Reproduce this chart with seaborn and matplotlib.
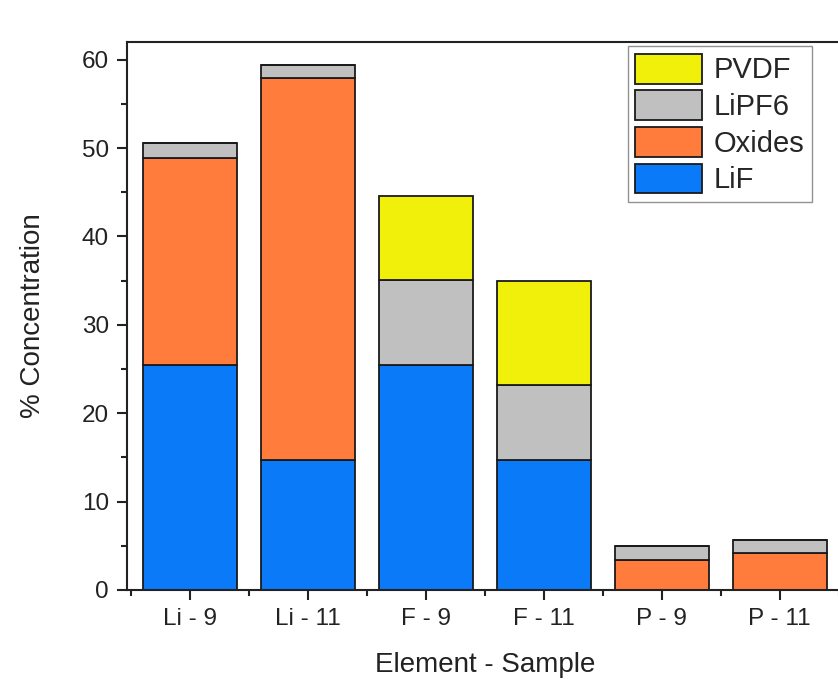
import matplotlib
matplotlib.use("Agg")
import matplotlib.pyplot as plt
from matplotlib.ticker import MultipleLocator, FixedLocator
import numpy as np
import pandas as pd
import seaborn as sns

samples = ["Li - 9", "Li - 11", "F - 9", "F - 11", "P - 9", "P - 11"]
lif = [25.5, 14.7, 25.5, 14.7, 0.0, 0.0]
oxides = [23.4, 43.2, 0.0, 0.0, 3.4, 4.2]
lipf6 = [1.7, 1.5, 9.6, 8.5, 1.6, 1.4]
pvdf = [0.0, 0.0, 9.5, 11.8, 0.0, 0.0]

components = ["LiF", "Oxides", "LiPF6", "PVDF"]
colors = ["#0A7AF8", "#FF7C3C", "#C0C0C0", "#F0F00A"]

df = pd.DataFrame({"Sample": samples, "LiF": lif, "Oxides": oxides,
                   "LiPF6": lipf6, "PVDF": pvdf})

sns.set_style("ticks")
plt.rcParams["font.family"] = ["Liberation Sans", "DejaVu Sans"]

fig = plt.figure(figsize=(8.38, 6.79), dpi=100)
ax = fig.add_axes([0.1516, 0.1311, 0.854, 0.807])

# stacked bars, one seaborn call per layer
bottom = np.zeros(len(samples))
for comp, col in zip(components, colors):
    sns.barplot(data=df, x="Sample", y=comp, order=samples, color=col,
                bottom=bottom.copy(), width=0.8, edgecolor="#1a1a1a",
                linewidth=1.3, saturation=1, label=comp, ax=ax)
    bottom += df[comp].to_numpy()

ax.set_xlim(-0.534, 5.534)
ax.set_ylim(0, 62)
ax.yaxis.set_major_locator(MultipleLocator(10))
ax.yaxis.set_minor_locator(MultipleLocator(5))
ax.xaxis.set_minor_locator(FixedLocator(np.arange(-0.5, 6.0, 1.0)))

for s in ax.spines.values():
    s.set_linewidth(1.5)
    s.set_color("#222222")
ax.tick_params(which="major", direction="out", length=7, width=1.5,
               labelsize=17.5, colors="#222222", pad=6)
ax.tick_params(which="minor", direction="out", length=4, width=1.5,
               colors="#222222")

ax.set_xlabel("Element - Sample", fontsize=20, labelpad=16, color="#222222")
ax.set_ylabel("% Concentration", fontsize=20, labelpad=26, color="#222222")

handles, labels = ax.get_legend_handles_labels()
leg = ax.legend(handles[::-1], labels[::-1], loc="upper right",
                bbox_to_anchor=(0.957, 0.992), fontsize=21, frameon=True,
                fancybox=False, edgecolor="#777777", handlelength=2.3,
                handleheight=1.2, labelspacing=0.2, handletextpad=0.4,
                borderpad=0.25, borderaxespad=0)
leg.get_frame().set_linewidth(1.0)

fig.savefig("out.png", dpi=100)
